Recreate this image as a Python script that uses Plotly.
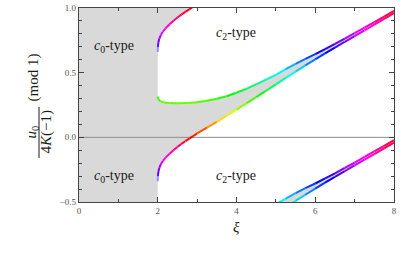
import colorsys
import plotly.graph_objects as go

# ---------------- data ----------------
# lower boundary curve of the c0-type band (unwrapped)
xi_L = [2.0, 2.004, 2.015, 2.04, 2.08, 2.13, 2.2, 2.3, 2.4, 2.5, 2.6, 2.7, 2.8, 2.9,
        3.0, 3.25, 3.5, 3.75, 4.0, 4.25, 4.5, 4.75, 5.0, 5.25, 5.5, 5.75, 6.0,
        6.25, 6.5, 6.75, 7.0, 7.25, 7.5, 7.75, 8.0]
u_L = [-0.34, -0.30, -0.268, -0.236, -0.207, -0.183, -0.157, -0.126, -0.099, -0.074,
       -0.051, -0.030, -0.010, 0.010, 0.030, 0.075, 0.120, 0.167, 0.215, 0.263, 0.311,
       0.360, 0.410, 0.460, 0.508, 0.556, 0.603, 0.649, 0.694, 0.739, 0.783, 0.827,
       0.871, 0.915, 0.960]

# upper boundary curve of the c0-type band
xi_U = [2.0, 2.01, 2.03, 2.07, 2.15, 2.3, 2.5, 2.75, 3.0, 3.25, 3.5, 3.75, 4.0, 4.25,
        4.5, 4.75, 5.0, 5.25, 5.5, 5.75, 6.0, 6.25, 6.5, 6.75, 7.0, 7.25, 7.5, 7.75, 8.0]
u_U = [0.315, 0.300, 0.288, 0.278, 0.270, 0.265, 0.263, 0.265, 0.272, 0.283, 0.298,
       0.318, 0.345, 0.375, 0.410, 0.446, 0.483, 0.527, 0.568, 0.607, 0.643, 0.682,
       0.722, 0.763, 0.805, 0.848, 0.891, 0.934, 0.978]

xi_range = [0, 8]
u_range = [-0.5, 1.0]
xi_crit = 2.0
x_tickvals = [0, 2, 4, 6, 8]
x_ticktext = ["0", "2", "4", "6", "8"]
y_tickvals = [-0.5, 0.0, 0.5, 1.0]
y_ticktext = ["\u22120.5", "0.0", "0.5", "1.0"]

region_labels = ["<i>c</i><sub>0</sub>-type", "<i>c</i><sub>0</sub>-type",
                 "<i>c</i><sub>2</sub>-type", "<i>c</i><sub>2</sub>-type"]
region_xi = [0.88, 0.88, 3.98, 3.98]
region_u = [0.70, -0.30, 0.805, -0.30]

# ---------------- styling ----------------
FONT = "Liberation Serif"
GRAY = "#d9d9d9"
AXC = "#444444"
LBL = "#555555"
TXT = "#1a1a1a"


def hue_color(u, fade=0.0):
    r, g, b = colorsys.hsv_to_rgb(u % 1.0, 1.0, 1.0)
    r, g, b = (c + (1 - c) * fade for c in (r, g, b))
    return "rgb(%d,%d,%d)" % (round(r * 255), round(g * 255), round(b * 255))


fig = go.Figure()

# c0-type region for xi < 2
fig.add_shape(type="rect", x0=xi_range[0], x1=xi_crit, y0=u_range[0], y1=u_range[1],
              fillcolor=GRAY, line=dict(width=0), layer="below")

# c0-type band between the two curves, repeated mod 1
# (polygon reaches a little into the xi<2 block so no seam shows at xi=2)
overlap = xi_crit - 0.1
for shift in (-1, 0, 1):
    fig.add_trace(go.Scatter(
        x=[overlap] + xi_L + xi_U[::-1] + [overlap],
        y=[u_L[0] + shift] + [v + shift for v in u_L]
          + [v + shift for v in u_U[::-1]] + [u_U[0] + shift],
        fill="toself", fillcolor=GRAY, mode="lines", line=dict(width=0),
        hoverinfo="skip", showlegend=False))

# horizontal line at 0
fig.add_trace(go.Scatter(x=xi_range, y=[0, 0], mode="lines",
                         line=dict(color="#8c8c8c", width=1),
                         hoverinfo="skip", showlegend=False))

# coloured curves (colour = hue of u mod 1)
for xs, us, fade_start in ((xi_L, u_L, True), (xi_U, u_U, False)):
    for shift in (-1, 0, 1):
        for i in range(len(xs) - 1):
            y0, y1 = us[i] + shift, us[i + 1] + shift
            if max(y0, y1) < u_range[0] or min(y0, y1) > u_range[1]:
                continue
            ym = 0.5 * (us[i] + us[i + 1])
            fade = 0.0
            if fade_start:
                d = abs(ym - us[0])
                fade = max(0.0, 1 - d / 0.06) * 0.85
            fig.add_trace(go.Scatter(
                x=[xs[i], xs[i + 1]], y=[y0, y1], mode="lines",
                line=dict(color=hue_color(ym, fade), width=2),
                hoverinfo="skip", showlegend=False))

# region labels
for t, xv, yv in zip(region_labels, region_xi, region_u):
    fig.add_annotation(x=xv, y=yv, text=t, showarrow=False,
                       xanchor="center", yanchor="middle",
                       font=dict(family=FONT, size=14, color=TXT))

# axis titles (built from pieces, rotated)
L_M, R_M, T_M, B_M = 79, 16, 8, 52
W, H = 410, 254
PW, PH = W - L_M - R_M, H - T_M - B_M


def px(xp):
    return (xp - L_M) / PW


def py(yp):
    return (H - B_M - yp) / PH


def title_piece(x, y, text, angle=0):
    fig.add_annotation(xref="paper", yref="paper", x=x, y=y, text=text,
                       textangle=angle, showarrow=False,
                       xanchor="center", yanchor="middle",
                       font=dict(family=FONT, size=15, color=TXT))


title_piece(0.5, py(227), "<i>\u03be</i>")
title_piece(px(31.5), py(132), "<i>u</i><sub>0</sub>", -90)
title_piece(px(45.5), py(132), "4<i>K</i>(\u22121)", -90)
title_piece(px(32.5), py(78), "(mod 1)", -90)
fig.add_shape(type="line", xref="paper", yref="paper", x0=px(39), x1=px(39),
              y0=py(107), y1=py(158), line=dict(color=TXT, width=1))

axis_common = dict(showline=True, linecolor=AXC, linewidth=1.3, mirror="ticks",
                   ticks="inside", ticklen=5, tickcolor=AXC, tickwidth=1,
                   showgrid=False, zeroline=False, automargin=False,
                   tickfont=dict(family=FONT, size=9, color=LBL))

fig.update_layout(
    width=W, height=H,
    margin=dict(l=L_M, r=R_M, t=T_M, b=B_M, autoexpand=False),
    paper_bgcolor="white", plot_bgcolor="white", showlegend=False,
    xaxis=dict(range=xi_range, tickvals=x_tickvals, ticktext=x_ticktext,
               minor=dict(dtick=1, ticks="inside", ticklen=3, tickcolor=AXC, showgrid=False),
               **axis_common),
    yaxis=dict(range=u_range, tickvals=y_tickvals, ticktext=y_ticktext,
               minor=dict(dtick=0.1, ticks="inside", ticklen=3, tickcolor=AXC, showgrid=False),
               **axis_common),
)

fig.write_html("out.html", config={"displayModeBar": False},
               post_script="document.body.style.margin='0';document.body.style.padding='0';")
